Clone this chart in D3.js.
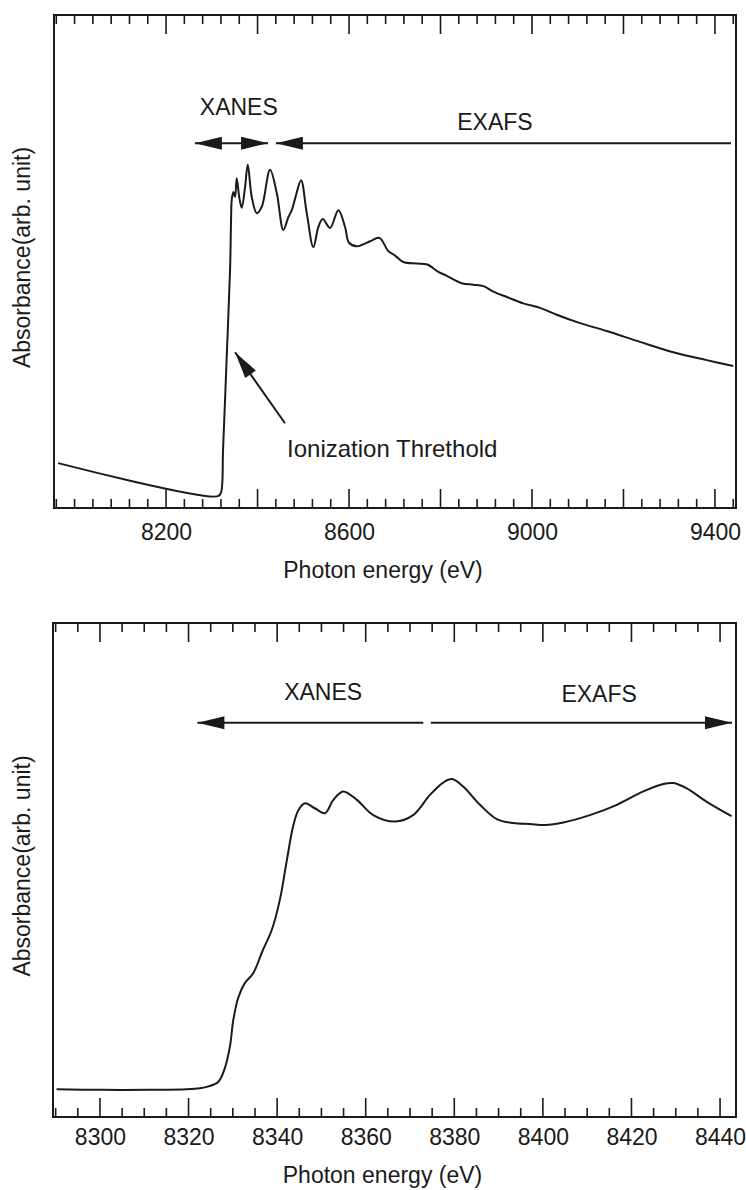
<!DOCTYPE html>
<html>
<head>
<meta charset="utf-8">
<script src="https://cdn.jsdelivr.net/npm/d3@7/dist/d3.min.js"></script>
<style>
  body { margin: 0; background: #fff; }
  svg { display: block; }
  .frame { fill: none; stroke: #1a1a1a; stroke-width: 2; }
  .curve { fill: none; stroke: #1a1a1a; stroke-width: 2; stroke-linejoin: round; }
  .domain { display: none; }
  text { font-family: "Liberation Sans", Arial, Helvetica, sans-serif; fill: #1a1a1a; }
</style>
</head>
<body>
<div id="chart"></div>
<script>
// Wide scan: Cu K-edge absorption, 7950 - 9450 eV
var wideEnergy = [7964, 8313.7, 8320.2, 8324.6, 8332.3, 8339.9, 8342.1, 8343.6, 8347.1, 8350.8,
  8354.5, 8360.2, 8365.5, 8372.7, 8378.6, 8387.3, 8398.3, 8409.2, 8427.3, 8442, 8456.4,
  8467.4, 8474.8, 8484.2, 8495.1, 8507.6, 8522, 8533, 8542.5, 8558.5, 8576.7, 8591.3,
  8600, 8616.9, 8628.5, 8646, 8666.3, 8686, 8700.6, 8718.7, 8748, 8771.2, 8795.2, 8813.6,
  8846.4, 8871.8, 8893.6, 8915.5, 8944.8, 8981.1, 9017.6, 9054, 9105, 9163.3, 9236, 9309,
  9382, 9440];
var wideAbsorbance = [0.091, 0.024, 0.032, 0.118, 0.30, 0.483, 0.584, 0.625, 0.641, 0.631,
  0.669, 0.629, 0.609, 0.651, 0.696, 0.631, 0.598, 0.611, 0.686, 0.639, 0.564,
  0.590, 0.604, 0.635, 0.665, 0.598, 0.529, 0.570, 0.586, 0.568, 0.604, 0.570,
  0.538, 0.531, 0.534, 0.541, 0.548, 0.521, 0.512, 0.499, 0.496, 0.494, 0.479, 0.471,
  0.456, 0.453, 0.450, 0.439, 0.428, 0.415, 0.406, 0.392, 0.375, 0.359, 0.337, 0.316,
  0.300, 0.288];
var wideTickLabels = [8200, 8600, 9000, 9400];
var wideMajorTicks = [8200, 8400, 8600, 8800, 9000, 9200, 9400];

// Near-edge scan: 8290 - 8443 eV
var edgeEnergy = [8290.2, 8300, 8311.3, 8319.6, 8322.6, 8324.1, 8326.7, 8328.2, 8329.4, 8330.1,
  8331.2, 8332.7, 8334.6, 8336.7, 8338.8, 8340.6, 8342.2, 8343.6, 8344.8, 8346.3, 8348.5,
  8350.8, 8352.7, 8354.9, 8358, 8361.7, 8366.6, 8370.7, 8374.5, 8377.5, 8379.5, 8382,
  8385.8, 8389.6, 8393.3, 8397.1, 8400.5, 8404.6, 8410.6, 8416.7, 8422.7, 8427.2, 8429.5,
  8432.5, 8437, 8442.6];
var edgeAbsorbance = [0.056, 0.055, 0.055, 0.056, 0.058, 0.061, 0.071, 0.099, 0.146, 0.196,
  0.241, 0.271, 0.291, 0.336, 0.379, 0.439, 0.520, 0.588, 0.621, 0.635, 0.625,
  0.615, 0.642, 0.659, 0.642, 0.611, 0.598, 0.611, 0.652, 0.677, 0.684, 0.669,
  0.632, 0.603, 0.595, 0.593, 0.591, 0.596, 0.611, 0.632, 0.659, 0.674, 0.676,
  0.665, 0.638, 0.609];
var edgeTickLabels = [8300, 8320, 8340, 8360, 8380, 8400, 8420, 8440];
var edgeMajorTicks = [8300, 8320, 8340, 8360, 8380, 8400, 8420, 8440];

// region arrows along the top of each panel
var wideRegions = [
  { name: "XANES", from: 8263, to: 8423, level: 0.740, heads: [true, true], label: 8359, labelLevel: 0.797 },
  { name: "EXAFS", from: 8440, to: 9435, level: 0.740, heads: [true, false], label: 8919, labelLevel: 0.767 }
];
var edgeRegions = [
  { name: "XANES", from: 8322, to: 8373, level: 0.798, heads: [true, false], label: 8350.4, labelLevel: 0.844 },
  { name: "EXAFS", from: 8374.7, to: 8442.7, level: 0.798, heads: [false, true], label: 8412.7, labelLevel: 0.840 }
];

var width = 746, height = 1190;

var svg = d3.select("#chart").append("svg")
    .attr("width", width)
    .attr("height", height);

function arrowHead (g, tx, ty, fx, fy) {
  // tip at (tx,ty), pointing away from (fx,fy)
  var len = 27, half = 6.5;
  var ang = Math.atan2(fy - ty, fx - tx);
  var bx = tx + len * Math.cos(ang), by = ty + len * Math.sin(ang);
  var px = -Math.sin(ang) * half, py = Math.cos(ang) * half;
  g.append("path")
    .attr("d", "M" + tx + "," + ty + "L" + (bx + px) + "," + (by + py) +
      "L" + (bx - px) + "," + (by - py) + "Z")
    .attr("fill", "#1a1a1a");
}

function panel (opts) {
  var box = opts.box;
  var x = d3.scaleLinear().domain(opts.xDomain).range([box.left, box.right]);
  var y = d3.scaleLinear().domain([0, 1]).range([box.bottom, box.top]);

  var g = svg.append("g");

  // inward minor + major ticks on top and bottom edges
  var minor = d3.range(opts.minorStart, opts.xDomain[1], opts.minorStep);
  var isMajor = function (v) { return opts.major.indexOf(Math.round(v * 100) / 100) >= 0; };

  [[box.bottom, -1], [box.top, 1]].forEach(function (side) {
    g.append("g").selectAll("line")
      .data(minor)
      .enter().append("line")
      .attr("x1", function (d) { return x(d); })
      .attr("x2", function (d) { return x(d); })
      .attr("y1", side[0])
      .attr("y2", function (d) { return side[0] + side[1] * (isMajor(d) ? 19 : 9); })
      .attr("stroke", "#1a1a1a")
      .attr("stroke-width", 1.6);
  });

  // tick labels
  var labelAxis = d3.axisBottom(x)
      .tickValues(opts.labels)
      .tickSize(0)
      .tickPadding(opts.labelPad)
      .tickFormat(d3.format("d"));
  var la = g.append("g")
      .attr("transform", "translate(0," + box.bottom + ")")
      .call(labelAxis);
  la.selectAll("text").style("font-size", "23px");
  la.select(".domain").remove();

  // frame
  g.append("rect")
    .attr("class", "frame")
    .attr("x", box.left)
    .attr("y", box.top)
    .attr("width", box.right - box.left)
    .attr("height", box.bottom - box.top);

  // curve
  var pts = d3.zip(opts.energy, opts.absorbance);
  var line = d3.line()
      .x(function (d) { return x(d[0]); })
      .y(function (d) { return y(d[1]); })
      .curve(d3.curveCatmullRom.alpha(0.5));
  g.append("path")
    .attr("class", "curve")
    .attr("d", line(pts));

  // region arrows
  opts.regions.forEach(function (r) {
    var yy = y(r.level), x0 = x(r.from), x1 = x(r.to);
    g.append("line")
      .attr("x1", x0).attr("x2", x1)
      .attr("y1", yy).attr("y2", yy)
      .attr("stroke", "#1a1a1a")
      .attr("stroke-width", 2);
    if (r.heads[0]) arrowHead(g, x0, yy, x1, yy);
    if (r.heads[1]) arrowHead(g, x1, yy, x0, yy);
    g.append("text")
      .attr("x", x(r.label))
      .attr("y", y(r.labelLevel))
      .attr("text-anchor", "middle")
      .style("font-size", "23px")
      .text(r.name);
  });

  // axis titles
  g.append("text")
    .attr("x", (box.left + box.right) / 2 - 12)
    .attr("y", box.bottom + opts.titlePad)
    .attr("text-anchor", "middle")
    .style("font-size", "23px")
    .text("Photon energy (eV)");

  g.append("text")
    .attr("transform", "translate(30," + ((box.top + box.bottom) / 2 - 4) + ") rotate(-90)")
    .attr("text-anchor", "middle")
    .style("font-size", "23px")
    .text("Absorbance(arb. unit)");

  return { x: x, y: y, g: g };
}

var wide = panel({
  box: { left: 54, right: 736, top: 15, bottom: 508 },
  xDomain: [7955, 9446],
  minorStart: 7960, minorStep: 40,
  major: wideMajorTicks,
  labels: wideTickLabels,
  labelPad: 16,
  titlePad: 70,
  energy: wideEnergy,
  absorbance: wideAbsorbance,
  regions: wideRegions
});

// ionization threshold note
var thrTip = [8350.8, 0.316], thrTail = [8460, 0.172];
wide.g.append("line")
  .attr("x1", wide.x(thrTail[0])).attr("y1", wide.y(thrTail[1]))
  .attr("x2", wide.x(thrTip[0])).attr("y2", wide.y(thrTip[1]))
  .attr("stroke", "#1a1a1a").attr("stroke-width", 2);
arrowHead(wide.g, wide.x(thrTip[0]), wide.y(thrTip[1]), wide.x(thrTail[0]), wide.y(thrTail[1]));
wide.g.append("text")
  .attr("x", wide.x(8464.5))
  .attr("y", wide.y(0.103))
  .style("font-size", "24px")
  .text("Ionization Threthold");

var edge = panel({
  box: { left: 53, right: 736, top: 623, bottom: 1117 },
  xDomain: [8289.4, 8443.6],
  minorStart: 8290, minorStep: 5,
  major: edgeMajorTicks,
  labels: edgeTickLabels,
  labelPad: 12,
  titlePad: 66,
  energy: edgeEnergy,
  absorbance: edgeAbsorbance,
  regions: edgeRegions
});
</script>
</body>
</html>
